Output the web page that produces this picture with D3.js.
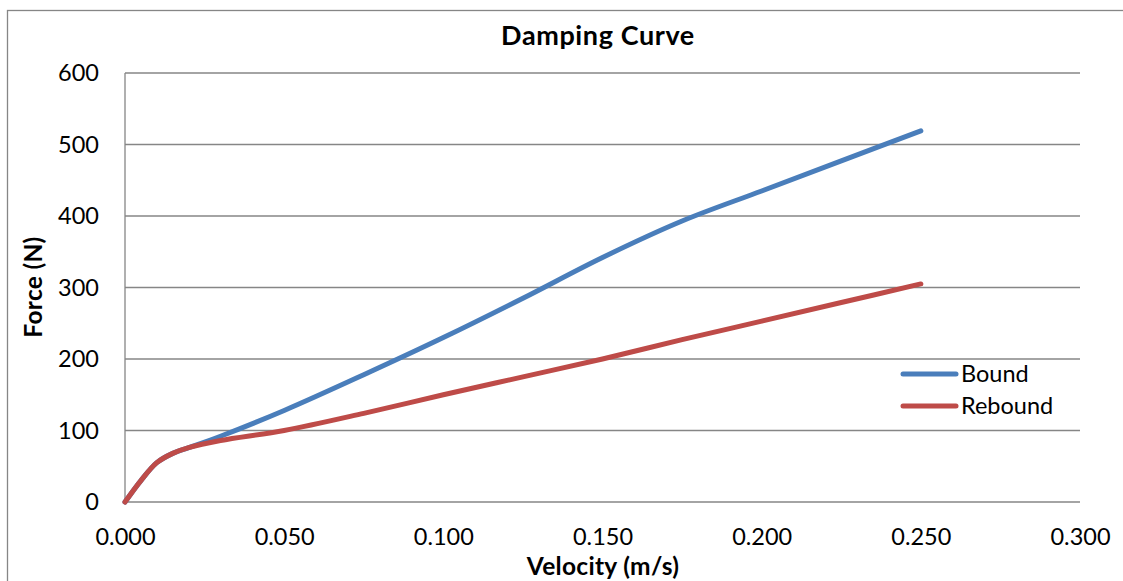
<!DOCTYPE html>
<html><head><meta charset="utf-8">
<script src="https://cdn.jsdelivr.net/npm/d3@7"></script>
<style>body{margin:0;background:#fff;} svg{display:block;font-family:Lato, "Liberation Sans", sans-serif;}</style>
</head><body>
<svg id="c" width="1123" height="581"></svg>
<script>
const velocity = [0, 0.005, 0.010, 0.015, 0.020, 0.030, 0.050, 0.075, 0.100, 0.125, 0.150, 0.175, 0.200, 0.225, 0.250];
const bound    = [0, 30, 55, 68, 76, 92, 128, 178, 230, 285, 342, 393, 435, 477, 519];
const rebound  = [0, 30, 55, 68, 76, 86, 100, 124, 150, 175, 200, 227, 253, 279, 305];
const xTicks = [0, 0.05, 0.1, 0.15, 0.2, 0.25, 0.3];
const yTicks = [0, 100, 200, 300, 400, 500, 600];
const seriesNames = ["Bound", "Rebound"];
const colors = ["#4A7EBB", "#BE4B48"];

const svg = d3.select("#c");
const L = 125, R = 1080, T = 73, B = 502;
const x = d3.scaleLinear().domain([0, 0.3]).range([L, R]);
const y = d3.scaleLinear().domain([0, 600]).range([B, T]);

// outer border
svg.append("rect").attr("x", 7.5).attr("y", 10.5).attr("width", 1130).attr("height", 600)
  .attr("fill", "none").attr("stroke", "#868686").attr("stroke-width", 1.3);

// gridlines
svg.append("g").selectAll("line").data(yTicks).join("line")
  .attr("x1", L).attr("x2", R).attr("y1", d => y(d)).attr("y2", d => y(d))
  .attr("stroke", "#868686").attr("stroke-width", 1.3);

// y axis line
svg.append("line").attr("x1", L).attr("x2", L).attr("y1", T).attr("y2", B)
  .attr("stroke", "#868686").attr("stroke-width", 1.3);

// y tick labels
const yAxis = d3.axisLeft(y).tickValues(yTicks).tickSize(0).tickPadding(26).tickFormat(d3.format("d"));
const ga = svg.append("g").attr("transform", `translate(${L},0)`).call(yAxis);
ga.select(".domain").remove();
ga.selectAll("text").attr("font-size", 23.5).attr("fill", "#000").attr("font-family", "Lato");

const xAxis = d3.axisBottom(x).tickValues(xTicks).tickSize(0).tickPadding(26).tickFormat(d3.format(".3f"));
const gx = svg.append("g").attr("transform", `translate(0,${B})`).call(xAxis);
gx.select(".domain").remove();
gx.selectAll("text").attr("font-size", 23.5).attr("fill", "#000").attr("font-family", "Lato");

// lines
const line = d3.line().x(d => x(d[0])).y(d => y(d[1])).curve(d3.curveCatmullRom.alpha(0.5));
[bound, rebound].forEach((s, i) => {
  svg.append("path").datum(velocity.map((v, j) => [v, s[j]]))
    .attr("d", line).attr("fill", "none").attr("stroke", colors[i])
    .attr("stroke-width", 5).attr("stroke-linecap", "round").attr("stroke-linejoin", "round");
});

// title
svg.append("text").attr("x", 598).attr("y", 45).attr("text-anchor", "middle")
  .attr("font-size", 27).attr("font-weight", "bold").attr("letter-spacing", 0.6).text("Damping Curve");
svg.append("text").attr("x", 603).attr("y", 575).attr("text-anchor", "middle")
  .attr("font-size", 24.5).attr("font-weight", "bold").attr("letter-spacing", 0.3).text("Velocity (m/s)");
svg.append("text").attr("transform", "translate(42,287) rotate(-90)").attr("text-anchor", "middle")
  .attr("font-size", 24.5).attr("font-weight", "bold").attr("letter-spacing", 0.3).text("Force (N)");

// legend
const lg = svg.append("g");
seriesNames.forEach((n, i) => {
  const yy = 374 + i * 32;
  lg.append("line").attr("x1", 903).attr("x2", 956).attr("y1", yy).attr("y2", yy)
    .attr("stroke", colors[i]).attr("stroke-width", 5).attr("stroke-linecap", "round");
  lg.append("text").attr("x", 961).attr("y", yy + 8).attr("font-size", 23.5).text(n);
});
</script>
</body></html>
